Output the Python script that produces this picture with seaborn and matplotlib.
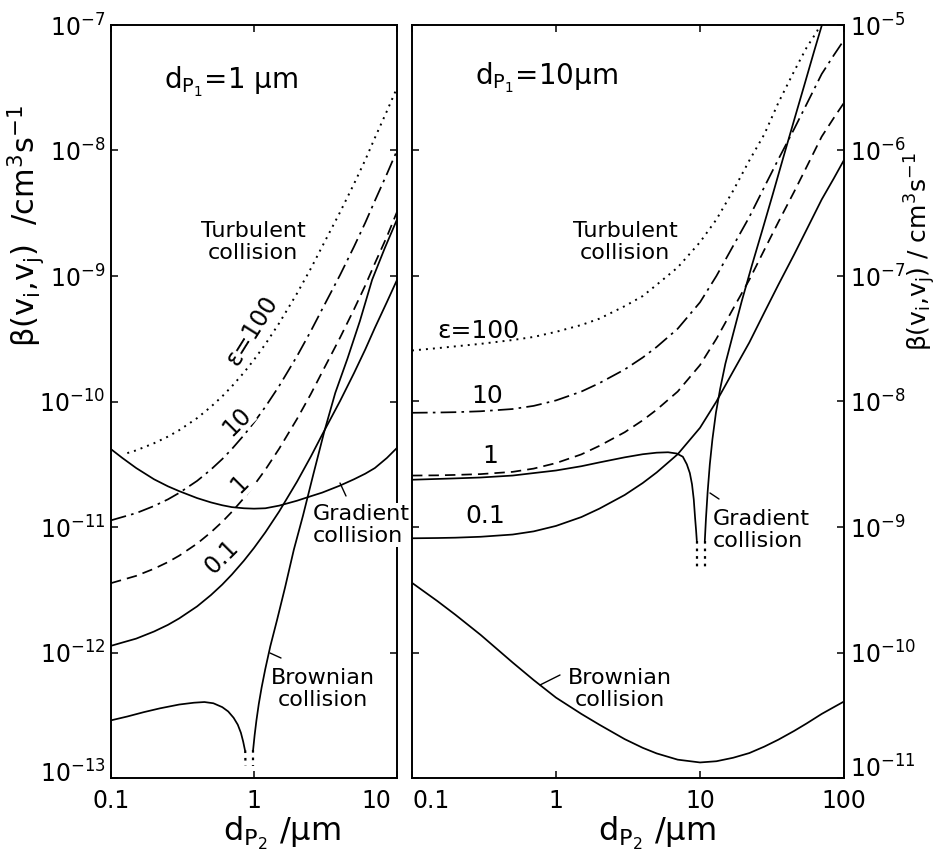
import numpy as np
import pandas as pd
import matplotlib
matplotlib.use("Agg")
import matplotlib.pyplot as plt
from matplotlib.lines import Line2D
from matplotlib.transforms import ScaledTranslation
import seaborn as sns

sns.set_style("white")
plt.rcParams["font.family"] = ["DejaVu Sans"]
plt.rcParams["mathtext.fontset"] = "dejavusans"

# ---------------- Left panel (d_P1 = 1 um) ----------------
xL = [0.1, 0.12, 0.15, 0.2, 0.25, 0.3, 0.4, 0.5, 0.6, 0.7, 0.85, 1.0, 1.2, 1.5,
      2.0, 2.5, 3.0, 4.0, 5.0, 6.0, 7.0, 8.5, 10.0]
L_eps10 = [1.13e-11, 1.20e-11, 1.29e-11, 1.47e-11, 1.66e-11, 1.87e-11, 2.33e-11,
           2.87e-11, 3.48e-11, 4.18e-11, 5.39e-11, 6.81e-11, 9.06e-11, 1.33e-10,
           2.30e-10, 3.65e-10, 5.45e-10, 1.02e-9, 1.71e-9, 2.66e-9, 3.97e-9, 6.50e-9, 1.0e-8]
L_eps1 = [3.57e-12, 3.79e-12, 4.08e-12, 4.65e-12, 5.25e-12, 5.91e-12, 7.37e-12,
          9.08e-12, 1.10e-11, 1.32e-11, 1.70e-11, 2.15e-11, 2.86e-11, 4.21e-11,
          7.27e-11, 1.15e-10, 1.72e-10, 3.23e-10, 5.41e-10, 8.41e-10, 1.26e-9, 2.06e-9, 3.24e-9]
L_eps01 = [1.13e-12, 1.20e-12, 1.29e-12, 1.47e-12, 1.66e-12, 1.87e-12, 2.33e-12,
           2.87e-12, 3.48e-12, 4.18e-12, 5.39e-12, 6.81e-12, 9.06e-12, 1.33e-11,
           2.30e-11, 3.65e-11, 5.45e-11, 1.01e-10, 1.68e-10, 2.60e-10, 3.86e-10, 6.2e-10, 9.3e-10]
L_grad = [4.17e-11, 3.55e-11, 2.95e-11, 2.40e-11, 2.11e-11, 1.93e-11, 1.70e-11,
          1.57e-11, 1.49e-11, 1.44e-11, 1.41e-11, 1.40e-11, 1.41e-11, 1.48e-11,
          1.62e-11, 1.76e-11, 1.88e-11, 2.14e-11, 2.40e-11, 2.66e-11, 2.95e-11, 3.55e-11, 4.27e-11]
xL100 = [0.13, 0.15, 0.2, 0.25, 0.3, 0.4, 0.5, 0.6, 0.7, 0.85, 1.0, 1.2, 1.5,
         2.0, 2.5, 3.0, 4.0, 5.0, 6.0, 7.0, 8.5, 10.0]
L_eps100 = [3.88e-11, 4.08e-11, 4.65e-11, 5.25e-11, 5.91e-11, 7.37e-11, 9.08e-11,
            1.10e-10, 1.32e-10, 1.70e-10, 2.15e-10, 2.86e-10, 4.21e-10, 7.27e-10,
            1.15e-9, 1.72e-9, 3.23e-9, 5.41e-9, 8.41e-9, 1.26e-8, 2.06e-8, 3.16e-8]
xL_brL = [0.1, 0.13, 0.17, 0.22, 0.3, 0.38, 0.45, 0.52, 0.6, 0.66, 0.72, 0.77,
          0.81, 0.84, 0.865]
L_brL = [2.88e-13, 3.09e-13, 3.35e-13, 3.59e-13, 3.85e-13, 3.98e-13, 4.03e-13,
         3.94e-13, 3.67e-13, 3.39e-13, 3.02e-13, 2.66e-13, 2.29e-13, 1.95e-13, 1.66e-13]
xL_brR = [0.985, 1.01, 1.04, 1.08, 1.13, 1.2, 1.3, 1.45, 1.65, 1.9, 2.2, 2.6, 3.1,
          3.7, 4.5, 5.5, 6.7, 8.2, 10.0]
L_brR = [1.66e-13, 2.19e-13, 2.88e-13, 3.89e-13, 5.25e-13, 7.41e-13, 1.12e-12,
         1.82e-12, 3.31e-12, 6.61e-12, 1.23e-11, 2.63e-11, 5.75e-11, 1.17e-10,
         2.19e-10, 4.37e-10, 9.33e-10, 1.66e-9, 2.82e-9]
xL_tailL = [0.868, 0.872]
L_tailL = [1.66e-13, 1.25e-13]
xL_tailR = [0.982, 0.982]
L_tailR = [1.66e-13, 1.25e-13]

# ---------------- Right panel (d_P1 = 10 um) ----------------
xR = [0.1, 0.15, 0.2, 0.3, 0.5, 0.7, 1, 1.5, 2, 3, 4, 5, 7, 10, 13, 17, 22, 28,
      35, 45, 55, 70, 85, 100]
R_eps10 = [8.13e-9, 8.17e-9, 8.22e-9, 8.36e-9, 8.71e-9, 9.23e-9, 1.02e-8, 1.20e-8,
           1.40e-8, 1.80e-8, 2.24e-8, 2.72e-8, 3.80e-8, 6.17e-8, 1.0e-7, 1.74e-7,
           2.95e-7, 5.13e-7, 8.51e-7, 1.48e-6, 2.34e-6, 4.07e-6, 5.75e-6, 7.59e-6]
R_eps1 = [2.57e-9, 2.58e-9, 2.60e-9, 2.64e-9, 2.75e-9, 2.92e-9, 3.23e-9, 3.79e-9,
          4.43e-9, 5.69e-9, 7.08e-9, 8.60e-9, 1.20e-8, 1.95e-8, 3.16e-8, 5.50e-8,
          9.33e-8, 1.62e-7, 2.69e-7, 4.68e-7, 7.40e-7, 1.29e-6, 1.82e-6, 2.40e-6]
R_eps01 = [8.13e-10, 8.17e-10, 8.22e-10, 8.36e-10, 8.71e-10, 9.23e-10, 1.02e-9,
           1.20e-9, 1.40e-9, 1.80e-9, 2.24e-9, 2.72e-9, 3.80e-9, 6.17e-9, 1.0e-8,
           1.74e-8, 2.95e-8, 5.13e-8, 8.51e-8, 1.48e-7, 2.34e-7, 4.07e-7, 6.0e-7, 8.4e-7]
R_brown = [3.59e-10, 2.57e-10, 2.0e-10, 1.38e-10, 8.32e-11, 6.03e-11, 4.37e-11,
           3.24e-11, 2.66e-11, 2.04e-11, 1.74e-11, 1.57e-11, 1.40e-11, 1.33e-11,
           1.36e-11, 1.45e-11, 1.58e-11, 1.78e-11, 2.02e-11, 2.37e-11, 2.72e-11,
           3.24e-11, 3.67e-11, 4.07e-11]
xR100 = [0.1, 0.15, 0.2, 0.3, 0.5, 0.7, 1, 1.5, 2, 3, 4, 5, 7, 10, 13, 17, 22, 28,
         35, 45, 55, 65, 70]
R_eps100 = [2.55e-8, 2.66e-8, 2.75e-8, 2.88e-8, 3.09e-8, 3.27e-8, 3.59e-8, 4.07e-8,
            4.57e-8, 5.75e-8, 6.92e-8, 8.51e-8, 1.17e-7, 1.86e-7, 2.82e-7, 4.79e-7,
            8.32e-7, 1.35e-6, 2.40e-6, 4.27e-6, 6.61e-6, 8.91e-6, 1.07e-5]
xR_grL = [0.1, 0.2, 0.3, 0.5, 0.7, 1, 1.5, 2, 3, 4, 5, 6, 6.9, 7.6, 8.1, 8.5, 8.8,
          9.05, 9.25, 9.4, 9.5]
R_grL = [2.38e-9, 2.44e-9, 2.48e-9, 2.57e-9, 2.69e-9, 2.82e-9, 3.05e-9, 3.27e-9,
         3.59e-9, 3.80e-9, 3.91e-9, 3.94e-9, 3.85e-9, 3.63e-9, 3.16e-9, 2.69e-9,
         2.19e-9, 1.66e-9, 1.17e-9, 9.3e-10, 7.8e-10]
xR_grR = [10.8, 11.0, 11.3, 11.7, 12.2, 12.9, 13.8, 15, 17, 19.5, 23, 27, 32, 38,
          45, 53, 62, 72]
R_grR = [7.76e-10, 1.17e-9, 1.91e-9, 3.16e-9, 5.01e-9, 8.13e-9, 1.26e-8, 2.0e-8,
         3.47e-8, 6.31e-8, 1.23e-7, 2.29e-7, 4.47e-7, 8.91e-7, 1.74e-6, 3.31e-6,
         6.17e-6, 1.10e-5]
xR_tailL = [9.5, 9.5]
R_tailL = [7.8e-10, 4.5e-10]
xR_tailR = [10.8, 10.8]
R_tailR = [7.8e-10, 4.5e-10]

DOT = (0, (1.0, 2.6))
DASHDOT = (0, (9, 3, 1.5, 3))
DASH = (0, (6, 3.5))
SOLID = "-"
TAIL = (0, (1.2, 2.2))


def draw(ax, x, y, ls, lw=1.25):
    df = pd.DataFrame({"x": x, "y": y})
    sns.lineplot(data=df, x="x", y="y", ax=ax, color="black", linewidth=lw,
                 linestyle=ls, estimator=None, sort=False, legend=False)


W, H = 943, 855
fig = plt.figure(figsize=(W / 100, H / 100), dpi=100)


def fx(px):
    return px / W


def fy(py):
    return 1 - py / H


axL = fig.add_axes([fx(111), fy(778), fx(397) - fx(111), fy(25) - fy(778)])
axR = fig.add_axes([fx(412), fy(778), fx(844) - fx(412), fy(25) - fy(778)])

for ax in (axL, axR):
    ax.set_xscale("log")
    ax.set_yscale("log")

draw(axL, xL100, L_eps100, DOT, 1.4)
draw(axL, xL, L_eps10, DASHDOT)
draw(axL, xL, L_eps1, DASH)
draw(axL, xL, L_eps01, SOLID)
draw(axL, xL, L_grad, SOLID)
draw(axL, xL_brL, L_brL, SOLID)
draw(axL, xL_brR, L_brR, SOLID)
draw(axL, xL_tailL, L_tailL, TAIL, 1.6)
draw(axL, xL_tailR, L_tailR, TAIL, 1.6)

draw(axR, xR100, R_eps100, DOT, 1.4)
draw(axR, xR, R_eps10, DASHDOT)
draw(axR, xR, R_eps1, DASH)
draw(axR, xR, R_eps01, SOLID)
draw(axR, xR, R_brown, SOLID)
draw(axR, xR_grL, R_grL, SOLID)
draw(axR, xR_grR, R_grR, SOLID)
draw(axR, xR_tailL, R_tailL, TAIL, 1.6)
draw(axR, xR_tailR, R_tailR, TAIL, 1.6)

axL.set_xlim(0.1, 10)
axL.set_ylim(1e-13, 1e-7)
axR.set_xlim(0.1, 100)
axR.set_ylim(1e-11, 1e-5)

axL.set_xticks([0.1, 1, 10], ["0.1", "1", "10"])
axR.set_xticks([0.1, 1, 10, 100], ["0.1", "1", "10", "100"])
axL.set_yticks([10.0 ** k for k in range(-13, -6)])
axR.set_yticks([10.0 ** k for k in range(-11, -4)])
for ax in (axL, axR):
    ax.minorticks_off()
    ax.set_xlabel("")
    ax.set_ylabel("")
    for s in ax.spines.values():
        s.set_linewidth(1.4)
        s.set_color("black")
    ax.tick_params(which="major", direction="in", length=5, width=1.1,
                   top=True, right=True, left=True, bottom=True,
                   labelsize=17, colors="black", pad=8)
axL.tick_params(axis="y", pad=4)
axR.tick_params(axis="y", labelleft=False, labelright=True, pad=4)

# label alignment like the reference (avoid collisions at the panel junction)
xl_L = axL.get_xticklabels()
xl_L[-1].set_horizontalalignment("right")
xl_L[-1].set_transform(xl_L[-1].get_transform() + ScaledTranslation(-0.06, 0, fig.dpi_scale_trans))
axR.get_xticklabels()[0].set_horizontalalignment("left")
yl_L = axL.get_yticklabels()
yl_L[0].set_transform(yl_L[0].get_transform() + ScaledTranslation(0, 0.07, fig.dpi_scale_trans))
yl_R = axR.get_yticklabels()
yl_R[0].set_transform(yl_R[0].get_transform() + ScaledTranslation(0, 0.12, fig.dpi_scale_trans))

TXT = dict(color="black")
WB = dict(facecolor="white", edgecolor="none", pad=0.6)

# left panel annotations
fig.text(fx(231), fy(82), r"d$_{\mathrm{P}_1}$=1 μm", fontsize=20, ha="center", va="center", **TXT)
fig.text(fx(253), fy(242), "Turbulent\ncollision", fontsize=16, ha="center", va="center",
         linespacing=1.1, **TXT)
fig.text(fx(252), fy(330), "ε=100", fontsize=17, ha="center", va="center", rotation=58,
         rotation_mode="anchor", bbox=WB, **TXT)
fig.text(fx(237), fy(421), "10", fontsize=17, ha="center", va="center", rotation=45,
         rotation_mode="anchor", bbox=WB, **TXT)
fig.text(fx(240), fy(484), "1", fontsize=17, ha="center", va="center", rotation=45,
         rotation_mode="anchor", bbox=WB, **TXT)
fig.text(fx(222), fy(557), "0.1", fontsize=17, ha="center", va="center", rotation=45,
         rotation_mode="anchor", bbox=WB, **TXT)
fig.text(fx(313), fy(525), "Gradient\ncollision", fontsize=16, ha="left", va="center",
         linespacing=1.1, bbox=dict(facecolor="white", edgecolor="none", pad=1.0), **TXT)
fig.text(fx(323), fy(689), "Brownian\ncollision", fontsize=16, ha="center", va="center",
         linespacing=1.1, **TXT)
fig.add_artist(Line2D([fx(340), fx(346)], [fy(483), fy(496)], color="black", lw=1.0))
fig.add_artist(Line2D([fx(270), fx(281)], [fy(653), fy(658)], color="black", lw=1.0))

# right panel annotations
fig.text(fx(546), fy(78), r"d$_{\mathrm{P}_1}$=10μm", fontsize=20, ha="center", va="center", **TXT)
fig.text(fx(625), fy(242), "Turbulent\ncollision", fontsize=16, ha="center", va="center",
         linespacing=1.1, **TXT)
fig.text(fx(478), fy(331), "ε=100", fontsize=18, ha="center", va="center", **TXT)
fig.text(fx(487), fy(396), "10", fontsize=18, ha="center", va="center", **TXT)
fig.text(fx(490), fy(456), "1", fontsize=18, ha="center", va="center", **TXT)
fig.text(fx(485), fy(516), "0.1", fontsize=18, ha="center", va="center", **TXT)
fig.text(fx(713), fy(530), "Gradient\ncollision", fontsize=16, ha="left", va="center",
         linespacing=1.1, **TXT)
fig.text(fx(620), fy(689), "Brownian\ncollision", fontsize=16, ha="center", va="center",
         linespacing=1.1, **TXT)
fig.add_artist(Line2D([fx(710), fx(719)], [fy(493), fy(499)], color="black", lw=1.0))
fig.add_artist(Line2D([fx(540), fx(560)], [fy(685), fy(675)], color="black", lw=1.0))

# axis titles
ylabL = r"β(v$_\mathrm{i}$,v$_\mathrm{j}$)  /cm$^3$s$^{-1}$"
ylabR = r"β(v$_\mathrm{i}$,v$_\mathrm{j}$) / cm$^3$s$^{-1}$"
fig.text(fx(26), fy(226), ylabL, fontsize=22, rotation=90, ha="center", va="center", **TXT)
fig.text(fx(920), fy(252), ylabR, fontsize=18, rotation=90, ha="center", va="center", **TXT)
xlab = r"d$_{\mathrm{P}_2}$ /μm"
fig.text(fx(282), fy(833), xlab, fontsize=23, ha="center", va="center", **TXT)
fig.text(fx(657), fy(833), xlab, fontsize=23, ha="center", va="center", **TXT)

fig.savefig("out.png", dpi=100, facecolor="white")
